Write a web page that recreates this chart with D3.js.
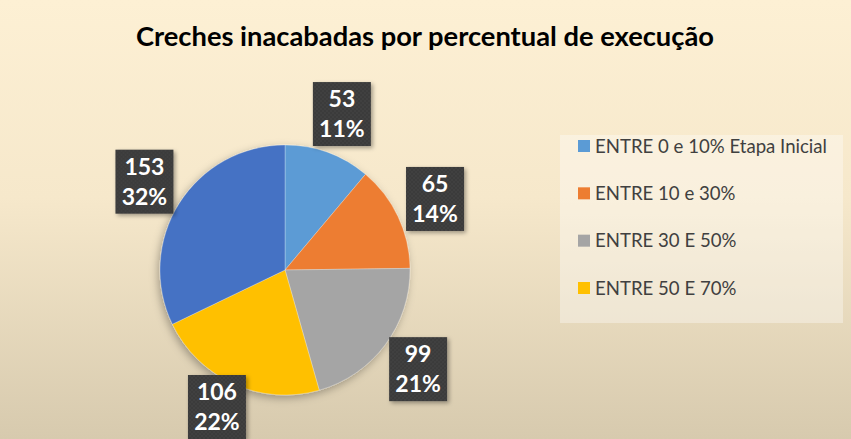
<!DOCTYPE html>
<html><head><meta charset="utf-8">
<script src="https://cdn.jsdelivr.net/npm/d3@7"></script>
<style>html,body{margin:0;padding:0;overflow:hidden;}</style>
</head><body>
<script>
const categories = ["ENTRE 0 e 10% Etapa Inicial","ENTRE 10 e 30%","ENTRE 30 E 50%","ENTRE 50 E 70%","ENTRE 70 E 100%"];
const legendCategories = ["ENTRE 0 e 10% Etapa Inicial","ENTRE 10 e 30%","ENTRE 30 E 50%","ENTRE 50 E 70%"];
const values = [53, 65, 99, 106, 153];
const percentLabels = ["11%","14%","21%","22%","32%"];
const colors = ["#5B9BD5","#ED7D31","#A5A5A5","#FFC000","#4472C4"];
const title = "Creches inacabadas por percentual de execução";

const W = 851, H = 439;
const svg = d3.select("body").append("svg").attr("width", W).attr("height", H);
const defs = svg.append("defs");

const bg = defs.append("linearGradient").attr("id","bg").attr("x1",0).attr("y1",0).attr("x2",0).attr("y2",1);
bg.append("stop").attr("offset","0%").attr("stop-color","#FDF0D4");
bg.append("stop").attr("offset","45%").attr("stop-color","#F6E8CB");
bg.append("stop").attr("offset","100%").attr("stop-color","#D7CAAE");
svg.append("rect").attr("width",W).attr("height",H).attr("fill","url(#bg)");

const pat = defs.append("pattern").attr("id","dots").attr("width",4).attr("height",4).attr("patternUnits","userSpaceOnUse");
pat.append("rect").attr("width",4).attr("height",4).attr("fill","#3A3A3A");
pat.append("circle").attr("cx",1).attr("cy",1).attr("r",0.8).attr("fill","#4A4A4A");
pat.append("circle").attr("cx",3).attr("cy",3).attr("r",0.8).attr("fill","#4A4A4A");

const sh = defs.append("filter").attr("id","sh").attr("x","-20%").attr("y","-20%").attr("width","140%").attr("height","140%");
sh.append("feDropShadow").attr("dx",-2).attr("dy",3).attr("stdDeviation",4).attr("flood-color","#000").attr("flood-opacity",0.3);
const sh2 = defs.append("filter").attr("id","sh2").attr("x","-30%").attr("y","-30%").attr("width","160%").attr("height","160%");
sh2.append("feDropShadow").attr("dx",2).attr("dy",2).attr("stdDeviation",2).attr("flood-color","#000").attr("flood-opacity",0.35);

svg.append("text").attr("x",425).attr("y",46).attr("text-anchor","middle")
  .attr("font-family","Lato, 'Open Sans', sans-serif").attr("font-weight","bold").attr("font-size",27.3)
  .attr("fill","#000").text(title);

// legend
const lg = svg.append("g");
lg.append("rect").attr("x",560).attr("y",135).attr("width",283).attr("height",188).attr("fill","#FFFFFF").attr("opacity",0.35);
const ly = d3.scalePoint().domain(legendCategories).range([146, 288]);
legendCategories.forEach((c,i)=>{
  lg.append("rect").attr("x",578).attr("y",ly(c)-6).attr("width",12).attr("height",12).attr("fill",colors[i]);
  lg.append("text").attr("x",595).attr("y",ly(c)+6.5).attr("font-family","Lato, sans-serif").attr("font-size",18.6)
    .attr("fill","#404040").text(c);
});

// pie
const cx = 285, cy = 270, R = 125;
const pie = d3.pie().sort(null).value(d=>d);
const arcs = pie(values);
const arc = d3.arc().innerRadius(0).outerRadius(R);
const labelArc = d3.arc().innerRadius(166).outerRadius(166);
const g = svg.append("g").attr("transform",`translate(${cx},${cy})`);
g.append("g").attr("filter","url(#sh)").selectAll("path").data(arcs).join("path")
  .attr("d",arc).attr("fill",(d,i)=>colors[i]).attr("stroke","rgba(255,255,255,0.35)").attr("stroke-width",0.8);

const bw = 58, bh = 64;
const lbl = svg.append("g");
arcs.forEach((a,i)=>{
  let [x,y] = labelArc.centroid(a);
  x += cx; y += cy;
  y = Math.min(y, H - bh/2);
  const gg = lbl.append("g").attr("transform",`translate(${x},${y})`);
  gg.append("rect").attr("x",-bw/2).attr("y",-bh/2).attr("width",bw).attr("height",bh)
    .attr("fill","url(#dots)").attr("filter","url(#sh2)");
  gg.append("text").attr("y",-7).attr("text-anchor","middle").attr("font-family","Lato, sans-serif")
    .attr("font-weight","bold").attr("font-size",23).attr("fill","#fff").text(values[i]);
  gg.append("text").attr("y",23).attr("text-anchor","middle").attr("font-family","Lato, sans-serif")
    .attr("font-weight","bold").attr("font-size",23).attr("fill","#fff").text(percentLabels[i]);
});
</script>
</body></html>
